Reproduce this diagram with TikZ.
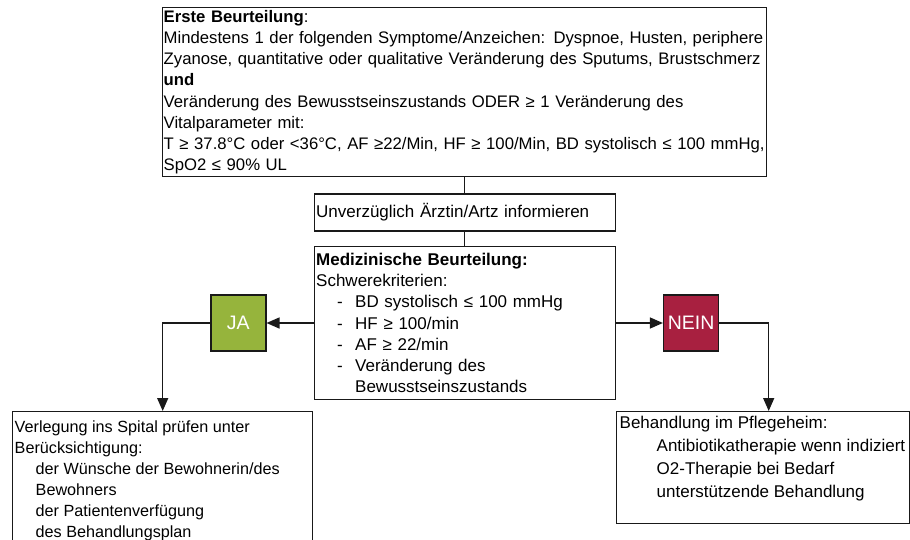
\documentclass[tikz,border=0pt]{standalone}
\usepackage{fontspec}
\setmainfont{Liberation Sans}
\usetikzlibrary{arrows.meta, positioning}
\definecolor{jagruen}{RGB}{150,180,60}
\definecolor{neinrot}{RGB}{168,32,64}
\newcommand{\krit}[1]{\hspace*{21pt}\makebox[18pt][l]{-}#1}

\begin{document}
\begin{tikzpicture}[x=1pt, y=-1pt, >={Triangle[length=13pt, width=11pt]},
    kasten/.style={draw=black!90, line width=1.4pt, align=left, inner xsep=2pt, inner ysep=0pt, font=\fontsize{17}{21.2}\selectfont},
    entscheid/.style={draw=black!90, line width=1.4pt, minimum width=55pt, minimum height=56pt, inner sep=0pt, text=white, font=\fontsize{19.5}{22}\selectfont},
    pfeil/.style={draw=black!90, line width=1.4pt}]
    \clip (0,0) rectangle (910,540);
    \node[kasten, anchor=north west, inner xsep=1pt, text width=602pt, minimum height=169pt, font=\fontsize{16.7}{21.1}\selectfont] (erste) at (162,7) {\textbf{Erste Beurteilung}:\\
        \mbox{Mindestens 1 der folgenden Symptome/Anzeichen: Dyspnoe, Husten, periphere}\\
        \mbox{Zyanose, quantitative oder qualitative Veränderung des Sputums, Brustschmerz}\\
        \textbf{und}\\
        Veränderung des Bewusstseinszustands ODER ≥ 1 Veränderung des\\
        Vitalparameter mit:\\
        \mbox{T ≥ 37.8°C oder <36°C, AF ≥22/Min, HF ≥ 100/Min, BD systolisch ≤ 100 mmHg,}\\
        SpO2 ≤ 90\% UL};
    \node[kasten, below=16pt of erste, text width=297pt, minimum height=37pt] (arzt) {Unverzüglich Ärztin/Artz informieren};
    \node[kasten, below=14pt of arzt, text width=297pt, minimum height=153pt] (medizin) {\textbf{Medizinische Beurteilung:}\\
        Schwerekriterien:\\
        \krit{BD systolisch ≤ 100 mmHg}\\
        \krit{HF ≥ 100/min}\\
        \krit{AF ≥ 22/min}\\
        \krit{Veränderung des}\\
        \hspace*{39pt}Bewusstseinszustands};
    \node[entscheid, fill=jagruen, left=47pt of medizin] (ja) {JA};
    \node[entscheid, fill=neinrot, right=47pt of medizin] (nein) {NEIN};
    \node[kasten, anchor=north west, inner ysep=9pt, font=\fontsize{16.2}{21}\selectfont] (spital) at (12,411) {\parbox[t][140pt][t]{296pt}{Verlegung ins Spital prüfen unter\\
        Berücksichtigung:\\
        \hspace*{21pt}der Wünsche der Bewohnerin/des\\
        \hspace*{21pt}Bewohners\\
        \hspace*{21pt}der Patientenverfügung\\
        \hspace*{21pt}des Behandlungsplan}};
    \node[kasten, anchor=north west, inner xsep=3pt, inner ysep=4pt, font=\fontsize{17}{23}\selectfont] (pflegeheim) at (616,411) {\parbox[t][104pt][t]{287pt}{Behandlung im Pflegeheim:\\
        \hspace*{37pt}Antibiotikatherapie wenn indiziert\\
        \hspace*{37pt}O2-Therapie bei Bedarf\\
        \hspace*{37pt}unterstützende Behandlung}};
    \draw[pfeil] (erste) -- (arzt);
    \draw[pfeil] (arzt) -- (medizin);
    \draw[pfeil, ->] (medizin) -- (ja);
    \draw[pfeil, ->] (medizin) -- (nein);
    \draw[pfeil, ->] (ja) -| (spital);
    \draw[pfeil, ->] (nein) -| ([xshift=5.5pt]pflegeheim.north);
\end{tikzpicture}
\end{document}
